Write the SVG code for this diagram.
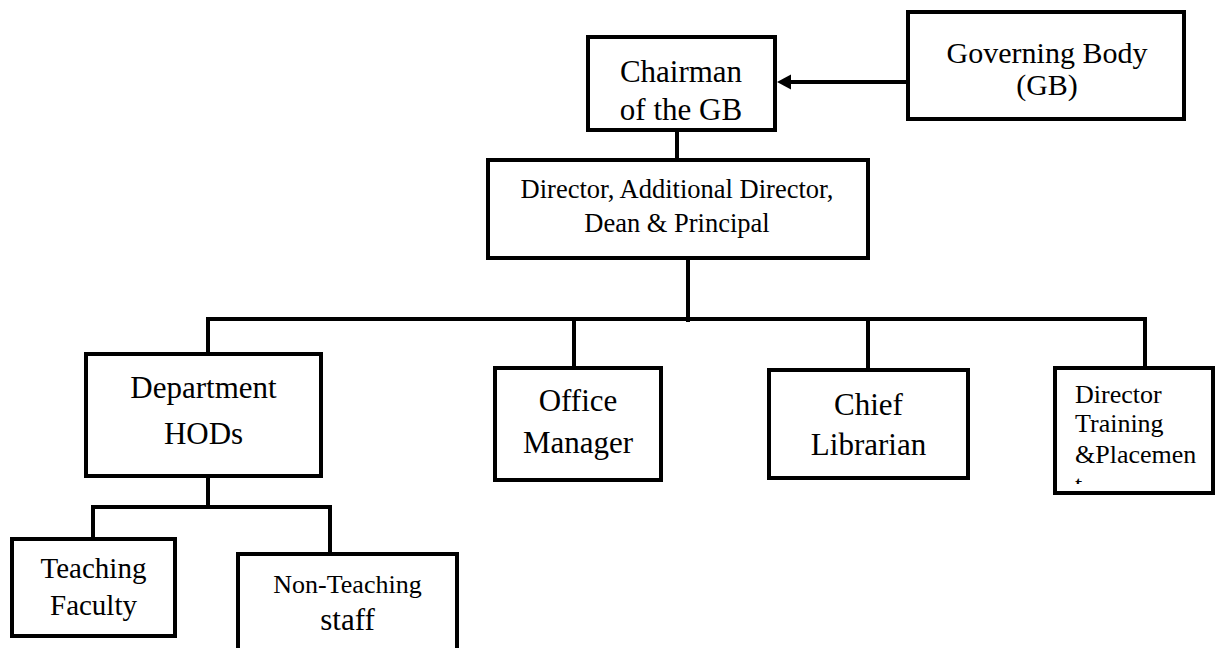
<svg xmlns="http://www.w3.org/2000/svg" width="1216" height="648" viewBox="0 0 1216 648" font-family="'Liberation Serif', 'Times New Roman', Times, serif">
  <style>
    .box { fill: #ffffff; stroke: #000000; stroke-width: 4; }
    .conn { fill: none; stroke: #000000; stroke-width: 4; }
    text { font-family: 'Liberation Serif', 'Times New Roman', Times, serif; fill: #000000; }
    .t { text-anchor: middle; }
    .tl { text-anchor: start; }
  </style>
  <defs>
    <clipPath id="clipDT">
      <rect x="1057" y="370" width="154" height="114"/>
    </clipPath>
  </defs>
  <rect width="1216" height="648" fill="#ffffff"/>

  <g id="connectors">
    <line class="conn" x1="906" y1="82" x2="788" y2="82"/>
    <polygon points="777,82 791,74.5 791,89.5" fill="#000000"/>
    <line class="conn" x1="677" y1="132" x2="677" y2="158"/>
    <line class="conn" x1="688" y1="260" x2="688" y2="322"/>
    <line class="conn" x1="206" y1="319" x2="1147" y2="319"/>
    <line class="conn" x1="208" y1="317" x2="208" y2="352"/>
    <line class="conn" x1="574" y1="319" x2="574" y2="366"/>
    <line class="conn" x1="868" y1="319" x2="868" y2="368"/>
    <line class="conn" x1="1145" y1="317" x2="1145" y2="366"/>
    <line class="conn" x1="208" y1="478" x2="208" y2="507"/>
    <line class="conn" x1="91" y1="507" x2="332" y2="507"/>
    <line class="conn" x1="93" y1="505" x2="93" y2="537"/>
    <line class="conn" x1="330" y1="505" x2="330" y2="552"/>
  </g>

  <g id="chairman">
    <rect class="box" x="588" y="37" width="187" height="93"/>
    <text class="t" x="681" y="82" font-size="31">Chairman</text>
    <text class="t" x="681" y="120" font-size="31">of the GB</text>
  </g>

  <g id="governing-body">
    <rect class="box" x="908" y="12" width="276" height="107"/>
    <text class="t" x="1047" y="63" font-size="30">Governing Body</text>
    <text class="t" x="1047" y="95" font-size="30">(GB)</text>
  </g>

  <g id="director">
    <rect class="box" x="488" y="160" width="380" height="98"/>
    <text class="t" x="677" y="198" font-size="26.5">Director, Additional Director,</text>
    <text class="t" x="677" y="232" font-size="26.5">Dean &amp; Principal</text>
  </g>

  <g id="department-hods">
    <rect class="box" x="86" y="354" width="235" height="122"/>
    <text class="t" x="203.5" y="398" font-size="31">Department</text>
    <text class="t" x="203.5" y="444" font-size="31">HODs</text>
  </g>

  <g id="office-manager">
    <rect class="box" x="495" y="368" width="166" height="112"/>
    <text class="t" x="578" y="411" font-size="31">Office</text>
    <text class="t" x="578" y="453" font-size="31">Manager</text>
  </g>

  <g id="chief-librarian">
    <rect class="box" x="769" y="370" width="199" height="108"/>
    <text class="t" x="868.5" y="415" font-size="31">Chief</text>
    <text class="t" x="868.5" y="455" font-size="31">Librarian</text>
  </g>

  <g id="director-training">
    <rect class="box" x="1055" y="368" width="158" height="125"/>
    <g clip-path="url(#clipDT)">
      <text class="tl" x="1075" y="403" font-size="26">Director</text>
      <text class="tl" x="1075" y="432" font-size="26">Training</text>
      <text class="tl" x="1075" y="463" font-size="26">&amp;Placemen</text>
      <text class="tl" x="1075" y="493" font-size="26">t</text>
    </g>
  </g>

  <g id="teaching-faculty">
    <rect class="box" x="12" y="539" width="163" height="97"/>
    <text class="t" x="93.5" y="578" font-size="29">Teaching</text>
    <text class="t" x="93.5" y="615" font-size="29">Faculty</text>
  </g>

  <g id="non-teaching-staff">
    <rect class="box" x="238" y="554" width="219" height="110"/>
    <text class="t" x="347.5" y="593" font-size="26">Non-Teaching</text>
    <text class="t" x="347.5" y="630" font-size="31">staff</text>
  </g>
</svg>
